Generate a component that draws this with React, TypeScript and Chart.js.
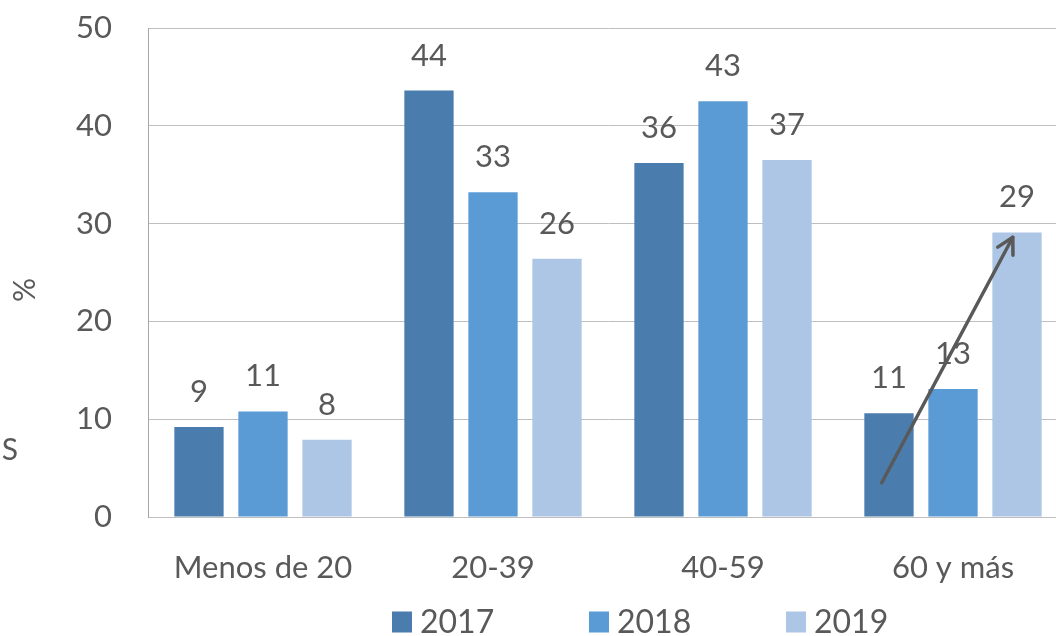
import { useEffect, useRef } from "react";
import { Chart, registerables } from "chart.js";

Chart.register(...registerables);

const categories = ["Menos de 20", "20-39", "40-59", "60 y más"];
const series2017 = [9.2, 43.6, 36.2, 10.6];
const series2018 = [10.8, 33.2, 42.5, 13.1];
const series2019 = [7.9, 26.4, 36.5, 29.1];
const seriesLabels = ["2017", "2018", "2019"];
const seriesColors = ["#4A7DAE", "#5B9BD5", "#ADC6E6"];
const yTicks = [0, 10, 20, 30, 40, 50];
// trend arrow (category index, value)
const arrowX = [2.69, 3.26];
const arrowY = [3.5, 28.6];

const FONT = "Lato, 'Open Sans', sans-serif";
const TEXT = "#595959";

const labelsPlugin = {
  id: "barLabels",
  afterDatasetsDraw(chart: any) {
    const ctx = chart.ctx;
    ctx.save();
    ctx.font = `31px ${FONT}`;
    ctx.fillStyle = TEXT;
    ctx.textAlign = "center";
    ctx.textBaseline = "middle";
    chart.data.datasets.forEach((ds: any, i: number) => {
      const meta = chart.getDatasetMeta(i);
      meta.data.forEach((bar: any, j: number) => {
        ctx.fillText(String(Math.round(ds.data[j])), bar.x, bar.y - 35);
      });
    });
    ctx.restore();
  },
};

const arrowPlugin = {
  id: "trendArrow",
  afterDraw(chart: any) {
    const { ctx, scales } = chart;
    const x1 = scales.x.getPixelForValue(arrowX[0]);
    const x2 = scales.x.getPixelForValue(arrowX[1]);
    const y1 = scales.y.getPixelForValue(arrowY[0]);
    const y2 = scales.y.getPixelForValue(arrowY[1]);
    const ang = Math.atan2(y2 - y1, x2 - x1);
    const head = 18;
    ctx.save();
    ctx.strokeStyle = TEXT;
    ctx.lineWidth = 3.5;
    ctx.lineCap = "round";
    ctx.lineJoin = "round";
    ctx.beginPath();
    ctx.moveTo(x1, y1);
    ctx.lineTo(x2, y2);
    ctx.stroke();
    ctx.beginPath();
    ctx.moveTo(x2 - head * Math.cos(ang - 0.5), y2 - head * Math.sin(ang - 0.5));
    ctx.lineTo(x2, y2);
    ctx.lineTo(x2 - head * Math.cos(ang + 0.5), y2 - head * Math.sin(ang + 0.5));
    ctx.stroke();
    ctx.restore();
  },
};

const extrasPlugin = {
  id: "extras",
  afterDraw(chart: any) {
    const ctx = chart.ctx;
    ctx.save();
    ctx.fillStyle = TEXT;
    ctx.font = `30px ${FONT}`;
    ctx.textAlign = "center";
    ctx.textBaseline = "middle";
    // y title
    ctx.save();
    ctx.translate(25, 290);
    ctx.rotate(-Math.PI / 2);
    ctx.fillText("%", 0, 0);
    ctx.restore();
    ctx.fillText("S", 10, 450);
    // legend
    const startX = 392;
    const step = 197;
    const cy = 622;
    ctx.font = `32px ${FONT}`;
    ctx.textAlign = "left";
    chart.data.datasets.forEach((ds: any, i: number) => {
      const x = startX + i * step;
      ctx.fillStyle = ds.backgroundColor;
      ctx.fillRect(x, cy - 10.5, 20, 21);
      ctx.fillStyle = TEXT;
      ctx.fillText(ds.label, x + 28, cy + 1);
    });
    ctx.restore();
  },
};

export default function App() {
  const ref = useRef<HTMLCanvasElement>(null);
  useEffect(() => {
    if (!ref.current) return;
    const data = [series2017, series2018, series2019];
    const chart = new Chart(ref.current, {
      type: "bar",
      data: {
        labels: categories,
        datasets: data.map((d, i) => ({
          label: seriesLabels[i],
          data: d,
          backgroundColor: seriesColors[i],
          borderWidth: 0,
          categoryPercentage: 0.835,
          barPercentage: 0.77,
        })),
      },
      options: {
        responsive: false,
        animation: false,
        devicePixelRatio: 1,
        layout: { padding: { top: 28, left: 0, right: 2, bottom: 0 } },
        plugins: {
          legend: { display: false },
          tooltip: { enabled: false },
        },
        scales: {
          x: {
            grid: { display: false, drawTicks: false },
            border: { display: true, color: "#BFBFBF", width: 1 },
            ticks: {
              color: TEXT,
              font: { family: FONT, size: 31 },
              padding: 32,
              maxRotation: 0,
              autoSkip: false,
            },
            afterFit: (s: any) => {
              s.height = 119;
              s.paddingLeft = 0;
              s.paddingRight = 0;
            },
          },
          y: {
            min: 0,
            max: 50,
            afterBuildTicks: (s: any) => {
              s.ticks = yTicks.map((v) => ({ value: v }));
            },
            grid: { color: "#BFBFBF", lineWidth: 1, drawTicks: false },
            border: { display: true, color: "#A6A6A6", width: 1 },
            ticks: {
              color: TEXT,
              font: { family: FONT, size: 31 },
              padding: 36,
            },
            afterFit: (s: any) => {
              s.width = 148;
              s.paddingTop = 0;
              s.paddingBottom = 0;
            },
          },
        },
      },
      plugins: [labelsPlugin, arrowPlugin, extrasPlugin],
    });
    return () => chart.destroy();
  }, []);
  return (
    <div
      style={{
        position: "fixed",
        left: 0,
        top: 0,
        width: 1056,
        height: 636,
        overflow: "hidden",
        background: "#fff",
      }}
    >
      <canvas ref={ref} width={1070} height={636} style={{ display: "block" }} />
    </div>
  );
}
